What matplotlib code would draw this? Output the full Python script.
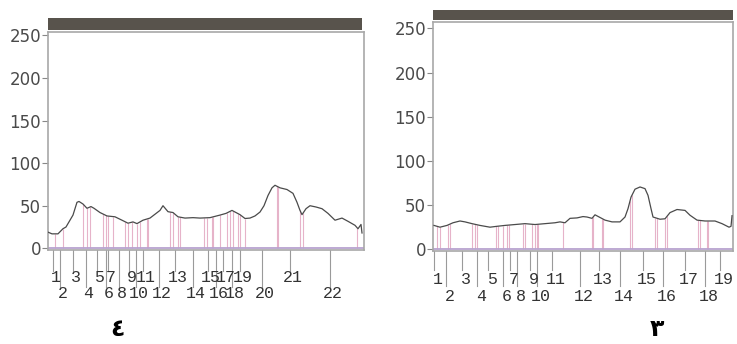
import numpy as np
import matplotlib
matplotlib.use('Agg')
import matplotlib.pyplot as plt
from matplotlib.patches import Rectangle

# ----------------------------
# Data
# ----------------------------
# lane 4 (left panel): position along lane, intensity
left_x = [0, 4, 10, 15, 18, 25, 29, 31, 35, 39, 43, 46, 52, 59, 67, 74, 80, 85, 89, 95,
          102, 107, 112, 115, 120, 125, 130, 137, 145, 152, 162, 172, 178, 184, 192, 197,
          202, 207, 212, 216, 220, 224, 227, 232, 239, 245, 249, 252, 254, 258, 262, 268,
          274, 280, 287, 294, 300, 307, 310, 313, 314]
left_y = [19, 17, 17, 23, 25, 39, 54, 55, 52, 47, 49, 47, 42, 38, 37, 33, 29.5, 31, 29, 33,
          35.5, 40, 44.5, 50, 43, 42, 37, 35.5, 36, 35.5, 36, 39, 41, 44.5, 39.5, 35,
          35.5, 38, 42.6, 50, 62, 71, 74, 71, 69, 64.5, 54, 44.5, 39.5, 46.5, 50, 48.5,
          46.5, 41, 33, 35.5, 31.7, 27, 23, 28, 18]
left_bands = [7, 15, 35, 39, 42, 55, 58, 60, 65, 77, 80, 84, 89, 92, 99, 100, 122, 125, 130,
              132, 156, 159, 164, 165, 172, 179, 182, 185, 190, 192, 197, 229, 230, 252,
              255, 309]
left_peaks = [5, 12, 25, 38, 49, 58, 60, 71, 81, 88, 95, 111, 127, 145, 160, 168, 175, 184,
              192, 214, 242, 282]

# lane 3 (right panel)
right_x = [1, 7, 14, 20, 27, 32, 39, 47, 57, 64, 72, 82, 92, 102, 112, 122, 127, 132, 137,
           144, 150, 154, 159, 162, 167, 172, 179, 187, 192, 195, 198, 202, 207, 212, 215,
           218, 220, 227, 232, 237, 244, 252, 257, 264, 272, 282, 289, 296, 298, 299]
right_y = [27, 25, 27, 30, 32, 31, 29, 27, 25, 26, 27, 28, 29, 28, 29, 30, 31, 30, 35,
           35.5, 37, 36.5, 35, 39, 36, 33, 31, 31, 36.5, 46, 59, 68, 70.5, 68.6, 61,
           46, 36.5, 34, 34.5, 41.5, 45, 44, 38.5, 33, 32, 32, 29, 25, 26, 38]
right_bands = [4, 7, 15, 17, 39, 42, 44, 63, 65, 70, 74, 76, 90, 92, 99, 102, 104, 105, 130,
               159, 160, 169, 170, 197, 199, 222, 224, 232, 234, 265, 267, 274, 275]
right_peaks = [1, 13, 29, 44, 55, 70, 77, 84, 97, 104, 119, 147, 166, 187, 210, 230, 252,
               272, 287]

y_ticks = [0, 50, 100, 150, 200, 250]
panel_names = ['\u0664', '\u0663']

# ----------------------------
# Figure
# ----------------------------
fig = plt.figure(figsize=(7.37, 3.44), dpi=100)
fig.patch.set_facecolor('white')

panels = [
    dict(rect=[0.0651, 0.2744, 0.4288, 0.6317], xmax=316, ytop=253.5,
         strip=[48 / 737, 0.9128, 314 / 737, 0.035], lead=(-26.6, -45.4),
         rows=(-33.7, -52.5), shift=2.5, name=(0.160, 0.045),
         x=left_x, y=left_y, bands=left_bands, peaks=left_peaks),
    dict(rect=[0.5875, 0.2715, 0.4071, 0.6654], xmax=300, ytop=257.5,
         strip=[433 / 737, 0.9419, 300 / 737, 0.029], lead=(-23.4, -41.5),
         rows=(-34.0, -53.2), shift=4, name=(0.891, 0.045),
         x=right_x, y=right_y, bands=right_bands, peaks=right_peaks),
]

for i, p in enumerate(panels):
    ax = fig.add_axes(p['rect'])
    ax.set_xlim(0, p['xmax'])
    ax.set_ylim(-1.5, p['ytop'])

    cx = np.array(p['x'], dtype=float)
    cy = np.array(p['y'], dtype=float)

    # band boundary lines (pink) up to the profile
    bx = np.array(p['bands'], dtype=float)
    ax.vlines(bx, 0, np.interp(bx, cx, cy), color='#e6b3c9', lw=0.8, zorder=1)

    # profile
    ax.plot(cx, cy, color='#4a4a4a', lw=0.9, zorder=3)

    # baseline
    ax.axhline(0, color='#b8a3cf', lw=1.3, zorder=2)

    # frame
    for s in ax.spines.values():
        s.set_color('#a8a8a8')
        s.set_linewidth(1.2)

    ax.set_yticks(y_ticks)
    ax.set_xticks([])
    ax.tick_params(axis='y', direction='out', length=4, width=0.8, color='#888888',
                   labelsize=12, labelcolor='#4a4a4a', pad=1)

    # peak leader lines and numbers below the axis
    for k, px in enumerate(p['peaks']):
        row = k % 2
        ax.plot([px, px], [-1.5, p['lead'][row]], color='#9a9a9a', lw=0.8,
                clip_on=False)
        ax.text(px + p['shift'], p['rows'][row], str(k + 1), ha='center', va='center',
                fontsize=12, family='Liberation Mono', color='#333333', clip_on=False)

    # dark lane strip above the plot
    fig.patches.append(Rectangle((p['strip'][0], p['strip'][1]), p['strip'][2],
                                 p['strip'][3], transform=fig.transFigure,
                                 facecolor='#58534c', edgecolor='none'))

    fig.text(p['name'][0], p['name'][1], panel_names[i], ha='center', va='center',
             fontsize=17, fontweight='bold', family=['DejaVu Sans'], color='black')

fig.savefig('out.png', dpi=100)
